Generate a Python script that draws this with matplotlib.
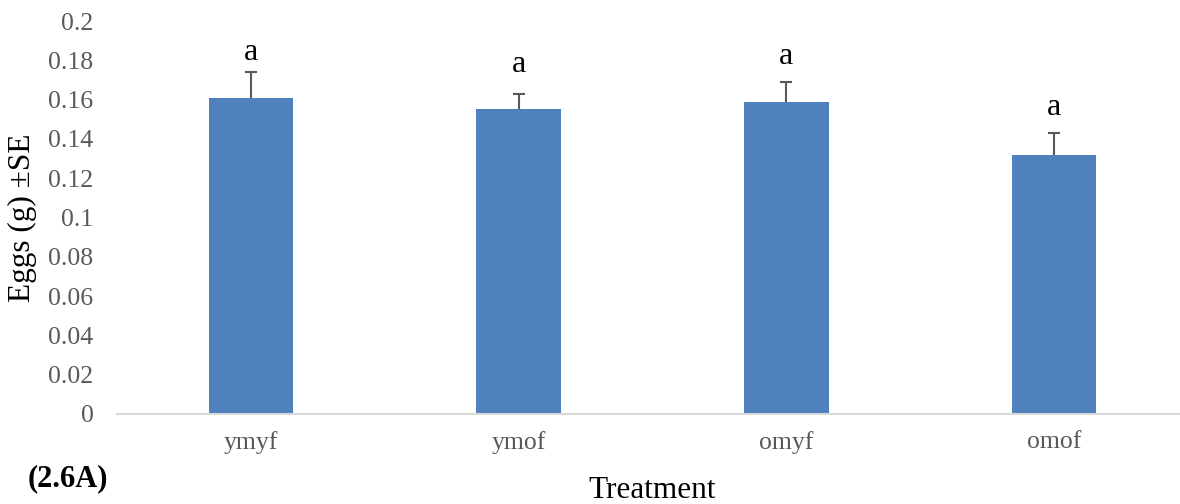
import matplotlib
matplotlib.use("Agg")
import matplotlib.pyplot as plt

treatments = ["ymyf", "ymof", "omyf", "omof"]
eggs = [0.161, 0.155, 0.159, 0.132]
se = [0.013, 0.008, 0.010, 0.011]
letters = ["a", "a", "a", "a"]
yticks = [0, 0.02, 0.04, 0.06, 0.08, 0.1, 0.12, 0.14, 0.16, 0.18, 0.2]
ytick_labels = ["0", "0.02", "0.04", "0.06", "0.08", "0.1", "0.12", "0.14", "0.16", "0.18", "0.2"]

# gap (points) between error cap and significance letter
letter_pad = [4, 10.5, 8, 8]

plt.rcParams["font.family"] = ["Liberation Serif", "DejaVu Serif"]

fig = plt.figure(figsize=(11.8, 5.04), dpi=100)
ax = fig.add_axes([117 / 1180, 90 / 504, 1071 / 1180, 393 / 504])

x = range(len(treatments))
ax.bar(x, eggs, width=0.315, color="#4f81bd", zorder=2)
# upper error only: hide the cap sitting on the bar top
_, caps, _ = ax.errorbar(x, eggs, yerr=[[0] * len(se), se], fmt="none", ecolor="#595959",
                         elinewidth=1.5, capsize=4.3, capthick=1.5, zorder=3)
caps[0].set_visible(False)

for i, (v, e, s) in enumerate(zip(eggs, se, letters)):
    ax.annotate(s, (i, v + e), xytext=(0, letter_pad[i]), textcoords="offset points",
                ha="center", va="bottom", fontsize=23, color="black")

ax.set_xlim(-0.5, 3.5)
ax.set_ylim(0, 0.2)
ax.set_xticks(list(x))
ax.set_xticklabels(treatments, fontsize=18.5, color="#595959")
ax.set_yticks(yticks)
ax.set_yticklabels(ytick_labels, fontsize=18.5, color="#595959")
ax.tick_params(axis="both", length=0)
ax.tick_params(axis="y", pad=17)
ax.tick_params(axis="x", pad=12)

for side in ["top", "right", "left"]:
    ax.spines[side].set_visible(False)
ax.spines["bottom"].set_color("#d9d9d9")
ax.spines["bottom"].set_linewidth(1.5)

fig.text(22 / 1180, 1 - 218 / 504, "Eggs (g) ±SE", rotation=90, ha="center",
         va="center", fontsize=22.5)
fig.text(652 / 1180, 1 - 498 / 504, "Treatment", ha="center", va="baseline",
         fontsize=22.5)
fig.text(68 / 1180, 1 - 486 / 504, "(2.6A)", ha="center", va="baseline",
         fontsize=22, fontweight="bold")

fig.savefig("out.png", dpi=100)
